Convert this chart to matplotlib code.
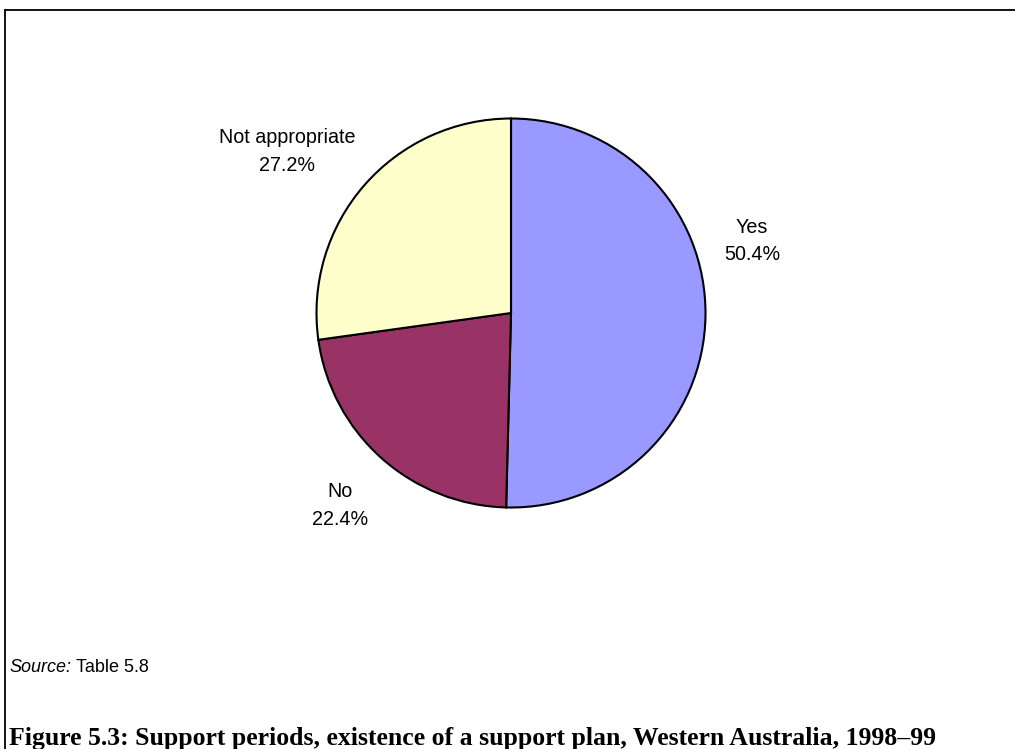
import matplotlib.pyplot as plt
from matplotlib.lines import Line2D

labels = ['Yes', 'No', 'Not appropriate']
shares = [50.4, 22.4, 27.2]
colours = ['#9999FF', '#993366', '#FFFFCC']

W, H = 1015, 749
fig = plt.figure(figsize=(W / 100, H / 100), dpi=100)

# pie centre and radius in pixels
cx, cy, r = 511, 313, 194.5
ax = fig.add_axes([(cx - r) / W, (H - cy - r) / H, 2 * r / W, 2 * r / H])
ax.pie(shares, colors=colours, startangle=90, counterclock=False,
       wedgeprops=dict(edgecolor='black', linewidth=1.5))
ax.set_xlim(-1, 1)
ax.set_ylim(-1, 1)
ax.set_aspect('equal')
ax.axis('off')

# label anchors relative to the pie (radius units)
label_pos = [(1.239, 0.37), (-0.879, -0.99), (-1.152, 0.83)]
for name, val, (lx, ly) in zip(labels, shares, label_pos):
    ax.text(lx, ly, f'{name}\n{val:.1f}%', ha='center', va='center',
            fontsize=14.2, family='Liberation Sans', linespacing=1.55,
            clip_on=False)

# frame round the chart area (top and left edges show)
fig.add_artist(Line2D([5 / W, 1], [1 - 10 / H, 1 - 10 / H], color='black', lw=1.3))
fig.add_artist(Line2D([5 / W, 5 / W], [0, 1 - 10 / H], color='black', lw=1.3))

renderer = fig.canvas.get_renderer()
src = fig.text(9 / W, 1 - 668 / H, 'Source:', style='italic', fontsize=13,
               family='Liberation Sans', va='center')
sw = src.get_window_extent(renderer).width
fig.text((9 + sw + 5) / W, 1 - 668 / H, 'Table 5.8', fontsize=13,
         family='Liberation Sans', va='center')

cap = fig.text(9 / W, 1 - 738 / H,
               'Figure 5.3: Support periods, existence of a support plan, Western Australia, 1998\u201399',
               fontsize=16, fontweight='bold', family='Liberation Serif', va='center')
# fit caption to its line width
cw = cap.get_window_extent(renderer).width
cap.set_fontsize(16 * 929 / cw)

fig.savefig('out.png', dpi=100)
